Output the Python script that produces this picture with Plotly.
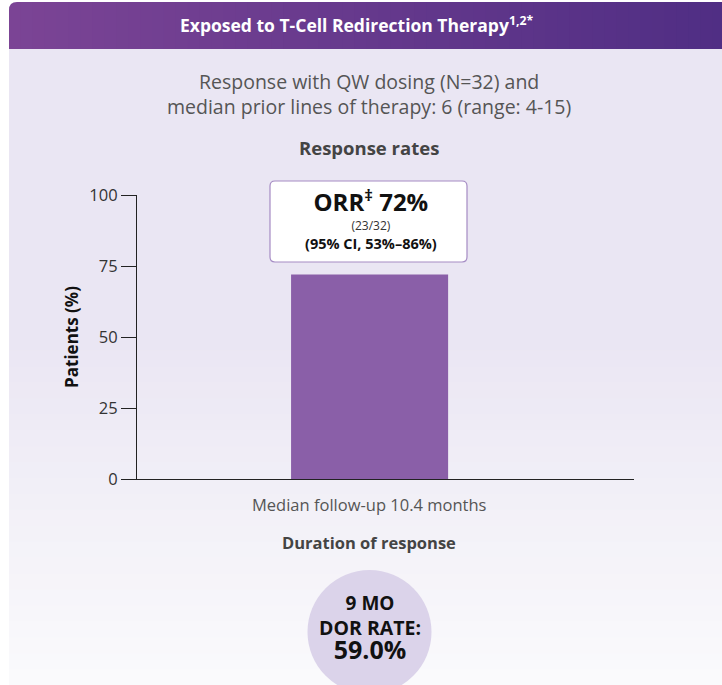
import plotly.graph_objects as go

# ---------------- data ----------------
categories = ["ORR"]
orr_values = [72]
y_ticks = [0, 25, 50, 75, 100]
y_tick_labels = ["0", "25", "50", "75", "100"]
orr_label = "72%"
orr_count = "(23/32)"
orr_ci = "(95% CI, 53%–86%)"
dor_label = ["9 MO", "DOR RATE:", "59.0%"]

# ---------------- layout geometry ----------------
W, H = 722, 685
ML, MR, MT, MB = 137, 88, 195, 206
PW, PH = W - ML - MR, H - MT - MB


def px(x):
    return (x - ML) / PW


def py(y):
    return (H - MB - y) / PH


def lerp(c1, c2, t):
    return "rgb(%d,%d,%d)" % tuple(round(a + (b - a) * t) for a, b in zip(c1, c2))


def rounded_rect(x0, y0, x1, y1, r):
    pts = [
        "M %f,%f" % (px(x0 + r), py(y0)),
        "L %f,%f" % (px(x1 - r), py(y0)),
        "Q %f,%f %f,%f" % (px(x1), py(y0), px(x1), py(y0 + r)),
        "L %f,%f" % (px(x1), py(y1 - r)),
        "Q %f,%f %f,%f" % (px(x1), py(y1), px(x1 - r), py(y1)),
        "L %f,%f" % (px(x0 + r), py(y1)),
        "Q %f,%f %f,%f" % (px(x0), py(y1), px(x0), py(y1 - r)),
        "L %f,%f" % (px(x0), py(y0 + r)),
        "Q %f,%f %f,%f" % (px(x0), py(y0), px(x0 + r), py(y0)),
        "Z",
    ]
    return " ".join(pts)


FONT = "'Open Sans', sans-serif"

fig = go.Figure()
fig.add_trace(go.Bar(
    x=[0], y=orr_values, width=0.316,
    marker=dict(color="#8A5FA8", line=dict(width=0)),
    hoverinfo="skip", showlegend=False,
))

shapes = []
# card background gradient (vertical)
top_c, bot_c = (234, 230, 243), (250, 250, 252)
card_top, card_bot = 48, H
n = 40
for i in range(n):
    y0 = card_top + (card_bot - card_top) * i / n
    y1 = card_top + (card_bot - card_top) * (i + 1) / n + 1
    t = max(0, (i / (n - 1) - 0.45) / 0.55)
    shapes.append(dict(type="rect", xref="paper", yref="paper", layer="below",
                       x0=px(9), x1=px(W + 2), y0=py(y1), y1=py(y0),
                       fillcolor=lerp(top_c, bot_c, t), line=dict(width=0)))
# header gradient (horizontal)
left_c, right_c = (123, 68, 149), (80, 46, 132)
hx0, hx1 = 9, W + 2
m = 60
for i in range(m):
    x0 = hx0 + (hx1 - hx0) * i / m
    x1 = hx0 + (hx1 - hx0) * (i + 1) / m + 1
    if i == 0:
        r = 8
        path = ("M %f,%f L %f,%f L %f,%f L %f,%f Q %f,%f %f,%f Z" % (
            px(x0), py(49), px(x1), py(49), px(x1), py(2),
            px(x0 + r), py(2), px(x0), py(2), px(x0), py(2 + r)))
        shapes.append(dict(type="path", xref="paper", yref="paper", layer="below",
                           path=path, fillcolor=lerp(left_c, right_c, 0), line=dict(width=0)))
    else:
        shapes.append(dict(type="rect", xref="paper", yref="paper", layer="below",
                           x0=px(x0), x1=px(x1), y0=py(49), y1=py(2),
                           fillcolor=lerp(left_c, right_c, i / (m - 1)), line=dict(width=0)))

# ORR label box above the bar
shapes.append(dict(type="path", xref="paper", yref="paper",
                   path=rounded_rect(270, 181, 467, 262, 5),
                   fillcolor="white", line=dict(color="#A58BC4", width=1.2), layer="above"))

# DOR circle
cx, cy, rr = 369.5, 632, 62
shapes.append(dict(type="circle", xref="paper", yref="paper",
                   x0=px(cx - rr), x1=px(cx + rr), y0=py(cy + rr), y1=py(cy - rr),
                   fillcolor="#DBD3EA", line=dict(width=0), layer="below"))

annotations = []


def txt(x, y, text, size, color, bold=False):
    annotations.append(dict(
        x=px(x), y=py(y), xref="paper", yref="paper",
        text=("<b>%s</b>" % text) if bold else text,
        showarrow=False, xanchor="center", yanchor="middle",
        font=dict(family=FONT, size=size, color=color)))


def span(text, size, color=None):
    style = "font-size:%gpx" % size
    if color:
        style += ";fill:%s" % color
    return "<span style='%s'>%s</span>" % (style, text)


txt(356, 24, "Exposed to T-Cell Redirection Therapy<sup>1,2*</sup>", 17.5, "white", True)
txt(369, 93.5, "Response with QW dosing (N=32) and<br>median prior lines of therapy: 6 (range: 4-15)",
    19.5, "#555555")
txt(369, 147, "Response rates", 18.5, "#444444", True)

txt(371, 218,
    span("<b>ORR<sup>‡</sup> " + orr_label + "</b>", 24) + "<br>" +
    span(orr_count, 12, "#333333") + "<br>" +
    span("<b>" + orr_ci + "</b>", 14.5),
    14.6, "#111111")

txt(369, 504, "Median follow-up 10.4 months", 16.5, "#555555")
txt(369, 542, "Duration of response", 16.5, "#444444", True)

txt(369.5, 628,
    span("<b>" + dor_label[0] + "</b>", 19) + "<br>" +
    span("<b>" + dor_label[1] + "</b>", 19.5) + "<br>" +
    span("<b>" + dor_label[2] + "</b>", 25),
    19, "#111111")

fig.update_layout(
    width=W, height=H,
    margin=dict(l=ML, r=MR, t=MT, b=MB, pad=0),
    paper_bgcolor="white", plot_bgcolor="rgba(0,0,0,0)",
    shapes=shapes, annotations=annotations,
    showlegend=False,
    font=dict(family=FONT),
    xaxis=dict(range=[-0.468, 0.532], showgrid=False, zeroline=False,
               showticklabels=False, ticks="", showline=True,
               linecolor="#222222", linewidth=1.2, fixedrange=True),
    yaxis=dict(range=[0, 100], tickvals=y_ticks, ticktext=y_tick_labels,
               showgrid=False, zeroline=False, showline=True,
               linecolor="#222222", linewidth=1.2, ticks="outside",
               ticklen=15, tickcolor="#222222", tickwidth=1.2,
               tickfont=dict(family=FONT, size=16.5, color="#333333"),
               title=dict(text="<b>Patients (%)</b>", standoff=6,
                          font=dict(family=FONT, size=17, color="#111111")),
               fixedrange=True),
)

fig.write_html("out.html", config={"displayModeBar": False},
               post_script="document.body.style.margin='0';")
